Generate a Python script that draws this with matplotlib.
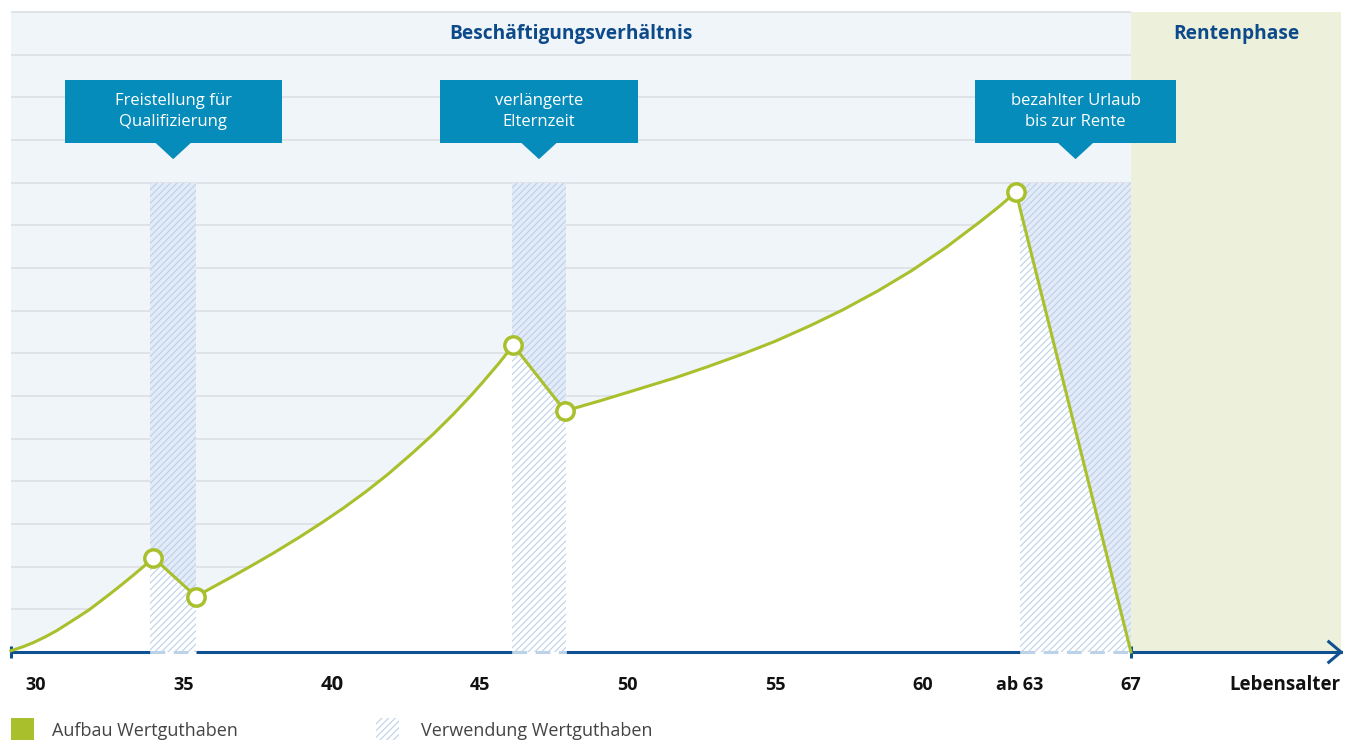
import matplotlib.pyplot as plt
from matplotlib.patches import Rectangle, Polygon

plt.rcParams['font.family'] = ['Open Sans', 'DejaVu Sans']
plt.rcParams['hatch.linewidth'] = 0.8

# Wertguthaben über das Lebensalter (Alter, Guthaben)
build1_age = [29.15, 29.55, 29.91, 30.3, 30.7, 31.04, 31.4, 31.8, 32.16, 32.5, 32.9, 33.29, 33.65, 33.97]
build1_val = [0.03, 0.12, 0.22, 0.35, 0.50, 0.65, 0.81, 0.99, 1.18, 1.36, 1.58, 1.80, 2.01, 2.21]
use1_age = [33.97, 35.41]
use1_val = [2.21, 1.30]
build2_age = [35.41, 36.01, 36.67, 37.31, 38.01, 38.93, 39.71, 40.41, 41.18, 41.91, 42.71,
              43.44, 44.11, 44.71, 45.13, 45.66, 46.14]
build2_val = [1.30, 1.53, 1.78, 2.03, 2.31, 2.70, 3.05, 3.38, 3.77, 4.17, 4.65,
              5.11, 5.57, 6.01, 6.34, 6.77, 7.19]
use2_age = [46.14, 47.89]
use2_val = [7.19, 5.65]
build3_age = [47.89, 49.09, 50.32, 51.59, 52.69, 53.81, 54.99, 56.19, 57.29, 58.49, 59.62,
              60.79, 61.92, 62.59, 63.14]
build3_val = [5.65, 5.89, 6.15, 6.42, 6.68, 6.96, 7.28, 7.65, 8.02, 8.47, 8.94,
              9.49, 10.08, 10.45, 10.78]
use3_age = [63.14, 67.03]
use3_val = [10.78, 0.0]

# Phasen der Entnahme (Beginn, Ende)
phase_start = [33.86, 46.10, 63.28]
phase_end = [35.42, 47.92, 67.03]
phase_top = 11
phase_labels = ['Freistellung für\nQualifizierung', 'verlängerte\nElternzeit', 'bezahlter Urlaub\nbis zur Rente']
callout_width = [7.34, 6.70, 6.83]

age_start = 29.15
retire_age = 67.03
age_end = 74.13
grid_levels = list(range(1, 16))

tick_ages = [30, 35, 40, 45, 50, 55, 60, 63.28, 67.03]
tick_labels = ['30', '35', '40', '45', '50', '55', '60', 'ab 63', '67']

green = '#a9c02c'
dark_blue = '#0f5090'
light_bg = '#f0f5fa'
band_bg = '#e3ebf8'
hatch_c = '#bcd1e8'
retire_bg = '#edf1dc'
callout_c = '#058cba'
title_c = '#0d4a8a'

curve_age = build1_age + use1_age[1:] + build2_age[1:] + use2_age[1:] + build3_age[1:] + use3_age[1:]
curve_val = build1_val + use1_val[1:] + build2_val[1:] + use2_val[1:] + build3_val[1:] + use3_val[1:]
peak_age = [build1_age[-1], use1_age[-1], build2_age[-1], use2_age[-1], build3_age[-1]]
peak_val = [build1_val[-1], use1_val[-1], build2_val[-1], use2_val[-1], build3_val[-1]]

fig = plt.figure(figsize=(13.59, 7.40), dpi=100)
ax = fig.add_axes([0, 0, 1, 1])
ax.set_xlim(28.7825, 74.742)
ax.set_ylim(-2.0623, 15.280)
ax.axis('off')

# backgrounds
ax.add_patch(Rectangle((age_start, 0), retire_age - age_start, 15, facecolor=light_bg, lw=0, zorder=0))
ax.add_patch(Rectangle((retire_age, 0), age_end - retire_age, 15, facecolor=retire_bg, lw=0, zorder=0))
ax.hlines(grid_levels, age_start, retire_age, color='#dcdfe2', lw=1.2, zorder=0.5)

for s, e in zip(phase_start, phase_end):
    ax.add_patch(Rectangle((s, 0), e - s, phase_top, facecolor=band_bg, lw=0, zorder=1))

ax.fill_between(curve_age, 0, curve_val, color='white', lw=0, zorder=2)

for s, e in zip(phase_start, phase_end):
    ax.add_patch(Rectangle((s, 0), e - s, phase_top, facecolor='none', edgecolor=hatch_c,
                           hatch='/////', lw=0, zorder=3))

# x axis
solid_from = [age_start] + phase_end[:-1]
solid_to = phase_start
for a, b in zip(solid_from, solid_to):
    ax.plot([a, b], [0, 0], color=dark_blue, lw=2.2, solid_capstyle='butt', zorder=4)
for s, e in zip(phase_start, phase_end):
    ax.plot([s, e], [0, 0], color='#bcd2e8', lw=2.2, ls=(0, (4.8, 2.8)), zorder=4)
ax.plot([retire_age, age_end], [0, 0], color=dark_blue, lw=2.2, zorder=4)
ax.plot([age_end - 0.41, age_end, age_end - 0.41], [0.24, 0, -0.24], color=dark_blue, lw=2.2, zorder=4)
ax.vlines([age_start, retire_age], -0.15, 0.15, color=dark_blue, lw=2.2, zorder=4)

# curve
ax.plot(curve_age, curve_val, color=green, lw=2.2, zorder=5)
ax.plot(peak_age, peak_val, 'o', ms=12.5, mfc='white', mec=green, mew=2.5, zorder=6)

# callouts
for s, e, label, w in zip(phase_start, phase_end, phase_labels, callout_width):
    c = (s + e) / 2
    ax.add_patch(Rectangle((c - w / 2, 11.93), w, 1.48, facecolor=callout_c, lw=0, zorder=7))
    ax.add_patch(Polygon([(c - 0.61, 11.94), (c + 0.61, 11.94), (c, 11.55)], closed=True,
                         facecolor=callout_c, lw=0, zorder=7))
    ax.text(c, 12.66, label, ha='center', va='center', color='white', fontsize=12,
            linespacing=1.4, zorder=8)

# phase titles
ax.text((age_start + retire_age) / 2, 14.48, 'Beschäftigungsverhältnis', ha='center', va='center',
        color=title_c, fontsize=13.8, fontweight='bold')
ax.text((retire_age + age_end) / 2, 14.48, 'Rentenphase', ha='center', va='center',
        color=title_c, fontsize=13.8, fontweight='bold')

# tick labels
for a, lab in zip(tick_ages, tick_labels):
    ax.text(a, -0.77, lab, ha='center', va='center', fontsize=14.5 if lab == '40' else 13,
            fontweight='bold', color='#111111')
ax.text(age_end, -0.77, 'Lebensalter', ha='right', va='center', fontsize=13.5,
        fontweight='bold', color='#111111')

# legend
ax.add_patch(Rectangle((age_start, -2.1), 0.78, 0.55, facecolor=green, lw=0, clip_on=False))
ax.add_patch(Rectangle((41.50, -2.1), 0.78, 0.55, facecolor='white', edgecolor=hatch_c,
                       hatch='/////', lw=0, clip_on=False))
ax.text(30.54, -1.84, 'Aufbau Wertguthaben', ha='left', va='center', fontsize=13, color='#444444')
ax.text(43.02, -1.84, 'Verwendung Wertguthaben', ha='left', va='center', fontsize=13, color='#444444')

fig.savefig('out.png', dpi=100)
